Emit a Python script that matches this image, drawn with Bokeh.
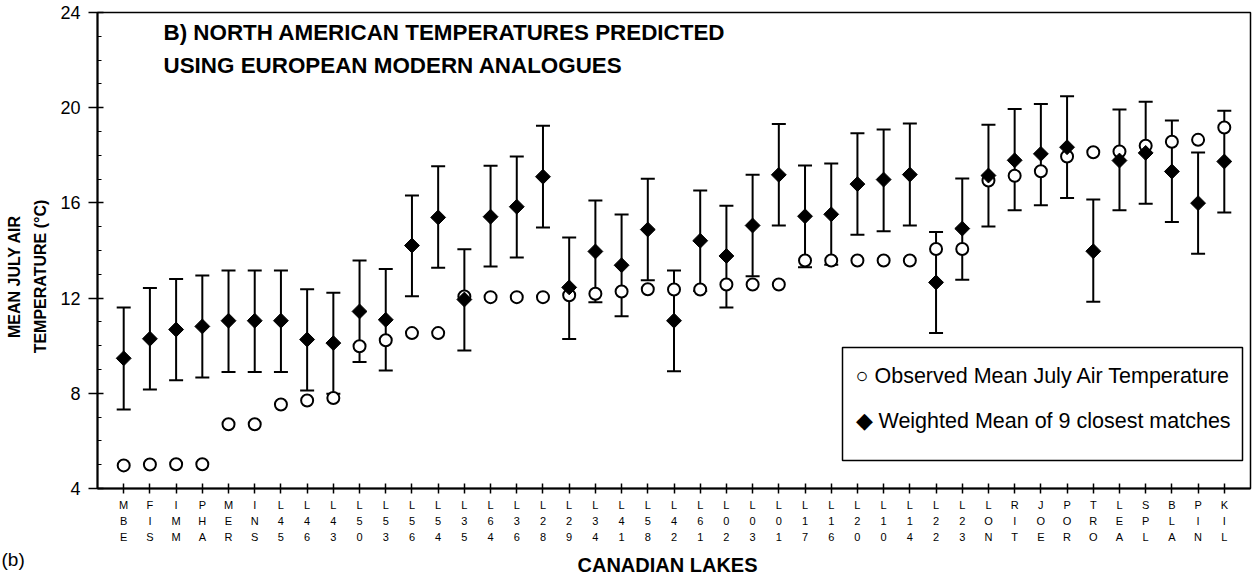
import math
from bokeh.plotting import figure
from bokeh.models import (Range1d, FixedTicker, SingleIntervalTicker, Whisker, TeeHead,
                          ColumnDataSource, Label, BoxAnnotation)
from bokeh.embed import file_html
from bokeh.resources import INLINE

# Canadian lakes, ordered by observed July temperature
lakes = ["MBE", "FIS", "IMM", "PHA", "MER", "INS", "L45", "L46", "L43", "L50", "L53",
         "L56", "L54", "L35", "L64", "L36", "L28", "L29", "L34", "L41", "L58", "L42",
         "L61", "L02", "L03", "L01", "L17", "L16", "L20", "L10", "L14", "L22", "L23",
         "LON", "RIT", "JOE", "POR", "TRO", "LEA", "SPL", "BLA", "PIN", "KIL"]

# observed mean July air temperature (deg C)
observed = [4.97, 5.01, 5.02, 5.02, 6.70, 6.70, 7.53, 7.70, 7.80, 9.98, 10.23,
            10.53, 10.53, 12.07, 12.04, 12.04, 12.04, 12.12, 12.18, 12.28, 12.37, 12.36,
            12.36, 12.57, 12.57, 12.57, 13.58, 13.58, 13.58, 13.58, 13.58, 14.06, 14.06,
            16.94, 17.14, 17.33, 17.95, 18.13, 18.16, 18.40, 18.57, 18.65, 19.17]

# weighted mean of the 9 closest European analogues
predicted = [9.47, 10.29, 10.68, 10.81, 11.05, 11.05, 11.05, 10.26, 10.11, 11.44, 11.09,
             14.21, 15.39, 11.94, 15.42, 15.84, 17.10, 12.45, 13.96, 13.38, 14.88, 11.05,
             14.41, 13.77, 15.05, 17.18, 15.44, 15.52, 16.79, 16.98, 17.19, 12.66, 14.92,
             17.15, 17.79, 18.06, 18.34, 13.97, 17.78, 18.10, 17.32, 15.99, 17.74]

pred_upper = [11.60, 12.42, 12.80, 12.95, 13.16, 13.16, 13.16, 12.37, 12.22, 13.58, 13.22,
              16.31, 17.54, 14.05, 17.56, 17.95, 19.24, 14.55, 16.10, 15.51, 17.01, 13.16,
              16.52, 15.88, 17.18, 19.32, 17.57, 17.66, 18.93, 19.08, 19.34, 14.78, 17.03,
              19.28, 19.95, 20.16, 20.48, 16.14, 19.92, 20.25, 19.46, 18.12, 19.87]

pred_lower = [7.32, 8.16, 8.55, 8.66, 8.90, 8.90, 8.90, 8.12, 7.98, 9.31, 8.96,
              12.08, 13.27, 9.80, 13.33, 13.71, 14.97, 10.28, 11.83, 11.24, 12.75, 8.93,
              12.30, 11.60, 12.92, 15.05, 13.30, 13.40, 14.66, 14.81, 15.05, 10.53, 12.77,
              15.01, 15.69, 15.90, 16.21, 11.85, 15.69, 15.96, 15.20, 13.86, 15.60]

legend_labels = ["\u25cb Observed Mean July Air Temperature",
                 "\u25c6 Weighted Mean of 9 closest matches"]

FONT = "Liberation Sans"
W, H = 1260, 578
LEFT, RIGHT, TOP, BOTTOM = 97, 10, 12, 90
X0, X1 = 0, len(lakes) + 1
Y0, Y1 = 4, 24

pos = list(range(1, len(lakes) + 1))
src = ColumnDataSource(dict(x=pos, lake=lakes, obs=observed, pred=predicted,
                            upper=pred_upper, lower=pred_lower))

p = figure(width=W, height=H, output_backend="svg", toolbar_location=None,
           x_range=Range1d(X0, X1), y_range=Range1d(Y0, Y1),
           min_border_left=LEFT, min_border_right=RIGHT,
           min_border_top=TOP, min_border_bottom=BOTTOM)
p.grid.visible = False
p.outline_line_color = "black"
p.outline_line_width = 1.5
p.background_fill_color = "white"
p.border_fill_color = "white"

# x axis: one tick per lake, code stacked vertically
xa = p.xaxis[0]
xa.ticker = FixedTicker(ticks=pos, minor_ticks=[])
xa.major_label_overrides = {i: "\n".join(n) for i, n in zip(pos, lakes)}
xa.major_label_text_font = FONT
xa.major_label_text_font_size = "11px"
xa.major_label_text_color = "black"
xa.major_label_text_line_height = 1.36
xa.major_label_standoff = 5
xa.major_tick_in = 5
xa.major_tick_out = 5
xa.major_tick_line_width = 1.5
xa.axis_line_width = 2

# y axis
ya = p.yaxis[0]
ya.ticker = SingleIntervalTicker(interval=4, num_minor_ticks=4)
ya.major_label_text_font = FONT
ya.major_label_text_font_size = "18px"
ya.major_label_text_color = "black"
ya.major_label_standoff = 8
ya.major_tick_in = 6
ya.major_tick_out = 9
ya.major_tick_line_width = 1.5
ya.minor_tick_in = 4
ya.minor_tick_out = 0
ya.minor_tick_line_width = 1.2
ya.axis_line_width = 2

# error bars of the analogue predictions
whisk = Whisker(source=src, base="x", upper="upper", lower="lower",
                line_width=2, line_color="black",
                upper_head=TeeHead(size=14, line_width=2, line_color="black"),
                lower_head=TeeHead(size=14, line_width=2, line_color="black"))
p.add_layout(whisk)

r_obs = p.scatter("x", "obs", source=src, marker="circle", size=12,
                  fill_color="white", line_color="black", line_width=2)
r_pred = p.scatter("x", "pred", source=src, marker="square", angle=math.pi / 4,
                   size=10.5, fill_color="black", line_color="black", line_width=1)


# page pixel -> data coordinates, for placing free text and the key box
def dx(px):
    return X0 + (px - LEFT) / (W - LEFT - RIGHT) * (X1 - X0)


def dy(py):
    return Y0 + (H - BOTTOM - py) / (H - BOTTOM - TOP) * (Y1 - Y0)


def make_text(txt, px, py, size, bold=False, align="left", angle=0.0):
    return Label(x=dx(px), y=dy(py), text=txt, text_font=FONT,
                 text_font_size=f"{size}px",
                 text_font_style="bold" if bold else "normal",
                 text_align=align, text_baseline="middle", angle=angle,
                 text_color="black")


# key: framed box with symbol-prefixed entries
p.add_layout(BoxAnnotation(left=dx(842), right=dx(1242), top=dy(347), bottom=dy(460),
                           fill_color="white", fill_alpha=1.0,
                           line_color="black", line_alpha=1.0, line_width=1.5))
p.add_layout(make_text(legend_labels[0], 855, 375, 21.5))
p.add_layout(make_text(legend_labels[1], 855, 420, 21.5))

# headline inside the plotting area
p.add_layout(make_text("B) NORTH AMERICAN TEMPERATURES PREDICTED", 163, 32, 22.4, bold=True))
p.add_layout(make_text("USING EUROPEAN MODERN ANALOGUES", 163, 65, 22.4, bold=True))

# axis titles and panel tag sit in the side panels so they are not clipped
p.add_layout(make_text("MEAN JULY AIR", 14, 276, 16, bold=True, align="center",
                       angle=math.pi / 2), "left")
p.add_layout(make_text("TEMPERATURE (\u00b0C)", 40, 276, 16, bold=True, align="center",
                       angle=math.pi / 2), "left")
p.add_layout(make_text("(b)", 1, 559, 19), "left")
p.add_layout(make_text("CANADIAN LAKES", 667, 564, 20, bold=True, align="center"), "below")

open("out.html", "w").write(file_html(p, INLINE))
